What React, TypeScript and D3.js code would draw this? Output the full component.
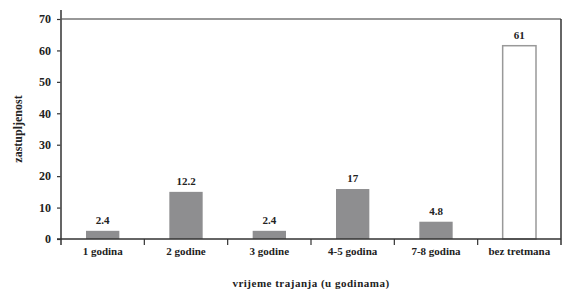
import React, { useEffect, useRef } from "react";
import * as d3 from "d3";

const categories = ["1 godina", "2 godine", "3 godine", "4-5 godina", "7-8 godina", "bez tretmana"];
const barValues = [2.6, 15, 2.6, 15.9, 5.5, 61.5];
const valueLabels = ["2.4", "12.2", "2.4", "17", "4.8", "61"];
const yTicks = [0, 10, 20, 30, 40, 50, 60, 70];

const App = () => {
    const ref = useRef<SVGSVGElement>(null);

    useEffect(() => {
        const svg = d3.select(ref.current);
        svg.selectChildren().remove();
        const width = 562;
        const height = 289;
        const margin = { top: 19, right: 1, bottom: 50, left: 61 };
        const font = "'Liberation Serif', 'Times New Roman', serif";
        const axisColor = "#333";

        const x = d3.scaleBand()
            .domain(categories)
            .range([margin.left, width - margin.right])
            .paddingInner(0.6)
            .paddingOuter(0.3);

        const band = d3.scaleBand()
            .domain(categories)
            .range([margin.left, width - margin.right]);

        const y = d3.scaleLinear()
            .domain([0, 70])
            .range([height - margin.bottom, margin.top]);

        // frame: top and right
        svg.append("line")
            .attr("x1", margin.left).attr("x2", width - margin.right)
            .attr("y1", y(70)).attr("y2", y(70))
            .attr("stroke", axisColor).attr("stroke-width", 1.2);
        svg.append("line")
            .attr("x1", width - margin.right).attr("x2", width - margin.right)
            .attr("y1", y(70)).attr("y2", y(0) + 6)
            .attr("stroke", axisColor).attr("stroke-width", 1.5);

        // bars
        svg.selectAll(".bar")
            .data(categories)
            .enter().append("rect")
            .attr("class", "bar")
            .attr("x", d => x(d)!)
            .attr("y", (d, i) => y(barValues[i]))
            .attr("width", x.bandwidth())
            .attr("height", (d, i) => y(0) - y(barValues[i]))
            .attr("fill", (d, i) => i === categories.length - 1 ? "#fff" : "#8e8e90")
            .attr("stroke", (d, i) => i === categories.length - 1 ? "#999" : "none")
            .attr("stroke-width", 1.5);

        // value labels
        svg.selectAll(".val")
            .data(categories)
            .enter().append("text")
            .attr("class", "val")
            .attr("x", d => x(d)! + x.bandwidth() / 2)
            .attr("y", (d, i) => y(barValues[i]) - 7)
            .attr("text-anchor", "middle")
            .attr("font-family", font)
            .attr("font-weight", "bold")
            .attr("font-size", 11)
            .attr("fill", "#222")
            .text((d, i) => valueLabels[i]);

        // y axis
        const yAxis = svg.append("g")
            .attr("transform", `translate(${margin.left},0)`)
            .call(d3.axisLeft(y).tickValues(yTicks).tickSize(4).tickSizeOuter(0).tickPadding(6));
        yAxis.select(".domain").remove();
        yAxis.selectAll(".tick line").attr("stroke", axisColor).attr("stroke-width", 1.2);
        yAxis.selectAll(".tick text")
            .attr("font-family", font).attr("font-weight", "bold")
            .attr("font-size", 12).attr("fill", "#222");
        svg.append("line")
            .attr("x1", margin.left).attr("x2", margin.left)
            .attr("y1", 10).attr("y2", y(0) + 6)
            .attr("stroke", "#555").attr("stroke-width", 1.8);

        // x axis
        svg.append("line")
            .attr("x1", margin.left - 4).attr("x2", width - margin.right)
            .attr("y1", y(0)).attr("y2", y(0))
            .attr("stroke", axisColor).attr("stroke-width", 1.5);
        svg.selectAll(".xtick")
            .data(categories.slice(1))
            .enter().append("line")
            .attr("class", "xtick")
            .attr("x1", d => band(d)!).attr("x2", d => band(d)!)
            .attr("y1", y(0)).attr("y2", y(0) + 6)
            .attr("stroke", axisColor).attr("stroke-width", 1.2);
        svg.selectAll(".xlab")
            .data(categories)
            .enter().append("text")
            .attr("class", "xlab")
            .attr("x", d => band(d)! + band.bandwidth() / 2)
            .attr("y", y(0) + 16)
            .attr("text-anchor", "middle")
            .attr("font-family", font)
            .attr("font-weight", "bold")
            .attr("font-size", 11)
            .attr("fill", "#222")
            .text(d => d);

        // axis titles
        svg.append("text")
            .attr("x", (margin.left + width - margin.right) / 2)
            .attr("y", 287)
            .attr("text-anchor", "middle")
            .attr("font-family", font)
            .attr("font-weight", "bold")
            .attr("font-size", 11)
            .attr("letter-spacing", 0.5)
            .attr("fill", "#222")
            .text("vrijeme trajanja (u godinama)");
        svg.append("text")
            .attr("transform", `translate(22,${(y(0) + y(70)) / 2}) rotate(-90)`)
            .attr("text-anchor", "middle")
            .attr("font-family", font)
            .attr("font-weight", "bold")
            .attr("font-size", 12)
            .attr("fill", "#222")
            .text("zastupljenost");
    });

    return (
        <svg ref={ref} width={562} height={289}
            style={{ position: "absolute", left: 0, top: 0, background: "#fff" }} />
    );
};

export default App;
